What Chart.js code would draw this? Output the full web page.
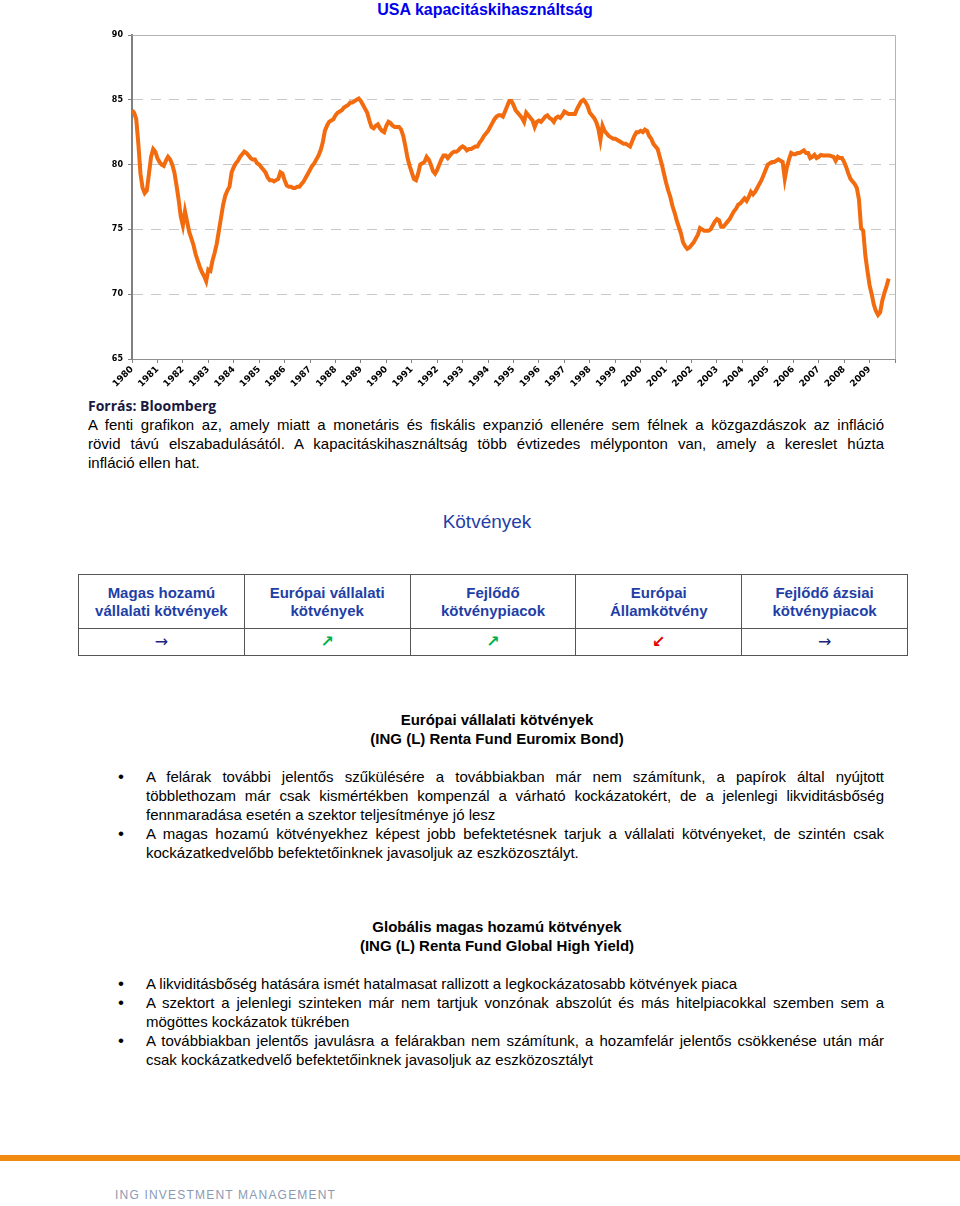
<!DOCTYPE html>
<html lang="hu">
<head>
  <meta charset="UTF-8">
  <title>USA kapacitáskihasználtság</title>
  <script src="https://cdn.jsdelivr.net/npm/chart.js"></script>
  <style>
    body {
      margin: 0;
      width: 960px;
      height: 1206px;
      background: #ffffff;
      font-family: 'Liberation Sans', Arial, sans-serif;
      color: #000;
      position: relative;
      overflow: hidden;
    }

    .abs { position: absolute; }

    #title {
      top: 0; left: 0; width: 970px;
      text-align: center;
      font-weight: bold;
      font-size: 16px;
      line-height: 19px;
      color: #0000ee;
    }

    #chartBox { top: 0; left: 0; width: 960px; height: 390px; }

    #source {
      top: 396px; left: 88px;
      font-family: 'Open Sans', sans-serif;
      font-weight: bold;
      font-size: 14px;
      line-height: 19px;
      color: #1a1a40;
    }

    .para {
      font-size: 15px;
      line-height: 19px;
      text-align: justify;
    }

    #intro { top: 415px; left: 88px; width: 796px; }
    #intro .jl { display: block; text-align: justify; text-align-last: justify; }
    #intro .ll { display: block; }

    #kotvenyek {
      top: 510px; left: 0; width: 974px;
      text-align: center;
      font-size: 19px;
      line-height: 24px;
      color: #1f3fa6;
    }

    table {
      position: absolute;
      top: 574px; left: 78px;
      border-collapse: collapse;
      table-layout: fixed;
      width: 830px;
    }
    td {
      border: 1px solid #555;
      text-align: center;
      padding: 0;
    }
    tr.head td {
      height: 53px;
      font-weight: bold;
      font-size: 15px;
      line-height: 18px;
      color: #1f3fa6;
    }
    tr.arrows td {
      height: 26px;
      font-family: 'DejaVu Sans', sans-serif;
      line-height: 20px;
    }
    .ar { font-size: 16px; color: #1a237e; }
    .up { font-size: 16px; font-weight: bold; color: #00b050; }
    .dn { font-size: 16px; font-weight: bold; color: #e00000; }

    .heading {
      left: 0; width: 994px;
      text-align: center;
      font-weight: bold;
      font-size: 15px;
      line-height: 19px;
    }

    ul {
      position: absolute;
      left: 146px; width: 738px;
      margin: 0; padding: 0;
      list-style: none;
    }
    ul li { position: relative; }
    ul li::before {
      content: "•";
      position: absolute;
      left: -28px;
      font-size: 17px;
    }

    #rule {
      top: 1155px; left: 0; width: 960px; height: 6px;
      background: #f08a10;
    }

    #footer {
      top: 1187px; left: 115px;
      font-size: 12px;
      line-height: 16px;
      letter-spacing: 1.2px;
      color: #8a9ab4;
    }
  </style>
</head>
<body>
  <div id="title" class="abs">USA kapacitáskihasználtság</div>
  <div id="chartBox" class="abs"><canvas id="chart" width="960" height="390"></canvas></div>

  <div id="source" class="abs">Forrás: Bloomberg</div>
  <div id="intro" class="abs para">
    <span class="jl">A fenti grafikon az, amely miatt a monetáris és fiskális expanzió ellenére sem félnek a közgazdászok az infláció</span>
    <span class="jl">rövid távú elszabadulásától. A kapacitáskihasználtság több évtizedes mélyponton van, amely a kereslet húzta</span>
    <span class="ll">infláció ellen hat.</span>
  </div>

  <div id="kotvenyek" class="abs">Kötvények</div>

  <table>
    <tr class="head">
      <td>Magas hozamú<br>vállalati kötvények</td>
      <td>Európai vállalati<br>kötvények</td>
      <td>Fejlődő<br>kötvénypiacok</td>
      <td>Európai<br>Államkötvény</td>
      <td>Fejlődő ázsiai<br>kötvénypiacok</td>
    </tr>
    <tr class="arrows">
      <td><span class="ar">→</span></td>
      <td><span class="up">↗</span></td>
      <td><span class="up">↗</span></td>
      <td><span class="dn">↙</span></td>
      <td><span class="ar">→</span></td>
    </tr>
  </table>

  <div class="abs heading" style="top:710px">Európai vállalati kötvények<br>(ING (L) Renta Fund Euromix Bond)</div>
  <ul class="para" style="top:767px">
    <li>A felárak további jelentős szűkülésére a továbbiakban már nem számítunk, a papírok által nyújtott többlethozam már csak kismértékben kompenzál a várható kockázatokért, de a jelenlegi likviditásbőség fennmaradása esetén a szektor teljesítménye jó lesz</li>
    <li>A magas hozamú kötvényekhez képest jobb befektetésnek tarjuk a vállalati kötvényeket, de szintén csak kockázatkedvelőbb befektetőinknek javasoljuk az eszközosztályt.</li>
  </ul>

  <div class="abs heading" style="top:917px">Globális magas hozamú kötvények<br>(ING (L) Renta Fund Global High Yield)</div>
  <ul class="para" style="top:974px">
    <li>A likviditásbőség hatására ismét hatalmasat rallizott a legkockázatosabb kötvények piaca</li>
    <li>A szektort a jelenlegi szinteken már nem tartjuk vonzónak abszolút és más hitelpiacokkal szemben sem a mögöttes kockázatok tükrében</li>
    <li>A továbbiakban jelentős javulásra a felárakban nem számítunk, a hozamfelár jelentős csökkenése után már csak kockázatkedvelő befektetőinknek javasoljuk az eszközosztályt</li>
  </ul>

  <div id="rule" class="abs"></div>
  <div id="footer" class="abs">ING INVESTMENT MANAGEMENT</div>

  <script>
    // tick labels
    const years = [];
    for (let y = 1980; y <= 2009; y++) years.push(y);
    const yTicks = [65, 70, 75, 80, 85, 90];

    // monthly capacity utilisation, Jan 1980 - Oct 2009
    const utilization = [
      84.2, 84.0, 83.5, 81.6, 79.3, 78.2, 77.8, 78.0, 79.3, 80.6, 81.2, 81.0, // 1980
      80.5, 80.2, 80.0, 79.9, 80.3, 80.6, 80.4, 80.0, 79.4, 78.4, 77.3, 76.0, // 1981
      75.3, 76.4, 75.6, 74.8, 74.3, 73.8, 73.1, 72.6, 72.1, 71.7, 71.4, 71.0, // 1982
      71.9, 71.8, 72.6, 73.2, 73.9, 74.9, 75.9, 76.9, 77.6, 78.0, 78.3, 79.4, // 1983
      79.8, 80.1, 80.3, 80.6, 80.8, 81.0, 80.9, 80.7, 80.5, 80.4, 80.4, 80.1, // 1984
      80.0, 79.8, 79.6, 79.4, 79.0, 78.8, 78.8, 78.7, 78.8, 78.9, 79.4, 79.3, // 1985
      78.8, 78.4, 78.3, 78.3, 78.2, 78.2, 78.3, 78.3, 78.5, 78.7, 79.0, 79.3, // 1986
      79.6, 79.9, 80.1, 80.4, 80.7, 81.1, 81.7, 82.6, 83.0, 83.3, 83.4, 83.5, // 1987
      83.8, 84.0, 84.1, 84.2, 84.4, 84.5, 84.6, 84.8, 84.8, 84.9, 85.0, 85.1, // 1988
      84.9, 84.6, 84.3, 84.0, 83.4, 82.9, 82.8, 83.0, 83.1, 82.8, 82.6, 82.5, // 1989
      83.0, 83.3, 83.2, 83.0, 82.9, 82.9, 82.9, 82.7, 82.2, 81.4, 80.5, 79.9, // 1990
      79.4, 78.9, 78.8, 79.3, 80.0, 80.1, 80.2, 80.6, 80.4, 80.0, 79.5, 79.3, // 1991
      79.6, 80.0, 80.4, 80.7, 80.7, 80.5, 80.7, 80.9, 81.0, 81.0, 81.1, 81.3, // 1992
      81.4, 81.3, 81.1, 81.2, 81.2, 81.3, 81.4, 81.4, 81.7, 81.9, 82.2, 82.4, // 1993
      82.6, 82.9, 83.2, 83.5, 83.7, 83.8, 83.8, 83.7, 84.1, 84.5, 84.9, 84.9, // 1994
      84.6, 84.2, 84.0, 83.8, 83.6, 83.3, 84.0, 83.8, 83.6, 83.4, 82.9, 83.3, // 1995
      83.4, 83.3, 83.5, 83.7, 83.8, 83.6, 83.5, 83.3, 83.6, 83.7, 83.6, 83.8, // 1996
      84.1, 84.0, 83.9, 83.9, 83.9, 83.9, 84.3, 84.6, 84.9, 85.0, 84.8, 84.5, // 1997
      84.0, 83.8, 83.6, 83.3, 82.8, 81.9, 83.0, 82.6, 82.4, 82.2, 82.1, 82.0, // 1998
      82.0, 81.9, 81.8, 81.7, 81.6, 81.6, 81.5, 81.4, 81.8, 82.2, 82.5, 82.5, // 1999
      82.6, 82.5, 82.7, 82.6, 82.2, 82.0, 81.6, 81.4, 81.2, 80.6, 80.0, 79.3, // 2000
      78.6, 78.0, 77.5, 76.8, 76.3, 75.7, 75.2, 74.7, 74.0, 73.7, 73.5, 73.6, // 2001
      73.8, 74.0, 74.3, 74.6, 75.1, 75.0, 74.9, 74.9, 74.9, 75.0, 75.3, 75.6, // 2002
      75.8, 75.7, 75.2, 75.2, 75.4, 75.6, 75.8, 76.1, 76.4, 76.6, 76.9, 77.0, // 2003
      77.2, 77.4, 77.2, 77.5, 77.9, 77.7, 77.9, 78.2, 78.5, 78.8, 79.2, 79.6, // 2004
      80.0, 80.1, 80.2, 80.2, 80.3, 80.4, 80.3, 80.2, 78.9, 79.8, 80.4, 80.9, // 2005
      80.8, 80.8, 80.9, 80.9, 81.0, 81.1, 80.9, 80.9, 80.5, 80.6, 80.75, 80.5, // 2006
      80.6, 80.75, 80.7, 80.7, 80.7, 80.7, 80.65, 80.6, 80.3, 80.6, 80.5, 80.5, // 2007
      80.2, 79.8, 79.3, 78.9, 78.7, 78.5, 78.2, 77.3, 75.1, 74.9, 73.0, 71.8, // 2008
      70.7, 70.0, 69.2, 68.7, 68.4, 68.6, 69.5, 70.1, 70.6, 71.2              // 2009
    ];

    const points = utilization.map((v, i) => ({ x: years[0] + i / 12, y: v }));

    const frame = {
      id: 'frame',
      afterDraw(chart) {
        const { ctx, chartArea: a } = chart;
        ctx.save();
        ctx.strokeStyle = '#b4b4b4';
        ctx.lineWidth = 1;
        ctx.beginPath();
        ctx.moveTo(a.left, a.top + 0.5);
        ctx.lineTo(a.right + 0.5, a.top + 0.5);
        ctx.lineTo(a.right + 0.5, a.bottom);
        ctx.stroke();
        ctx.restore();
      }
    };

    const tickFont = { family: 'DejaVu Sans', weight: 'bold', size: 8 };

    new Chart(document.getElementById('chart'), {
      type: 'line',
      data: {
        datasets: [{
          data: points,
          borderColor: '#f26b0f',
          borderWidth: 4,
          pointRadius: 0,
          tension: 0,
          fill: false
        }]
      },
      options: {
        responsive: false,
        animation: false,
        layout: { padding: { left: 100, right: 65, top: 35, bottom: 0 } },
        plugins: { legend: { display: false }, tooltip: { enabled: false } },
        scales: {
          x: {
            type: 'linear',
            min: 1980,
            max: 2010,
            afterFit: s => { s.height = 31; },
            afterBuildTicks: s => { s.ticks = years.concat([2010]).map(v => ({ value: v })); },
            ticks: {
              autoSkip: false,
              minRotation: 45,
              maxRotation: 45,
              padding: 1,
              color: '#000',
              font: { family: 'DejaVu Sans', weight: 'bold', size: 9 },
              callback: v => (years.includes(v) ? String(v) : '')
            },
            grid: { drawOnChartArea: false, tickLength: 4, color: '#808080' },
            border: { color: '#909090', width: 1 }
          },
          y: {
            min: 65,
            max: 90,
            afterFit: s => { s.width = 32; },
            afterBuildTicks: s => { s.ticks = yTicks.map(v => ({ value: v })); },
            ticks: { color: '#000', padding: 5, font: tickFont },
            grid: { color: '#c8c8c8', lineWidth: 1, tickLength: 4, tickColor: '#808080', borderDash: [10, 8] },
            border: { color: '#808080', width: 2, dash: [10, 8] }
          }
        }
      },
      plugins: [frame]
    });
  </script>
</body>
</html>
